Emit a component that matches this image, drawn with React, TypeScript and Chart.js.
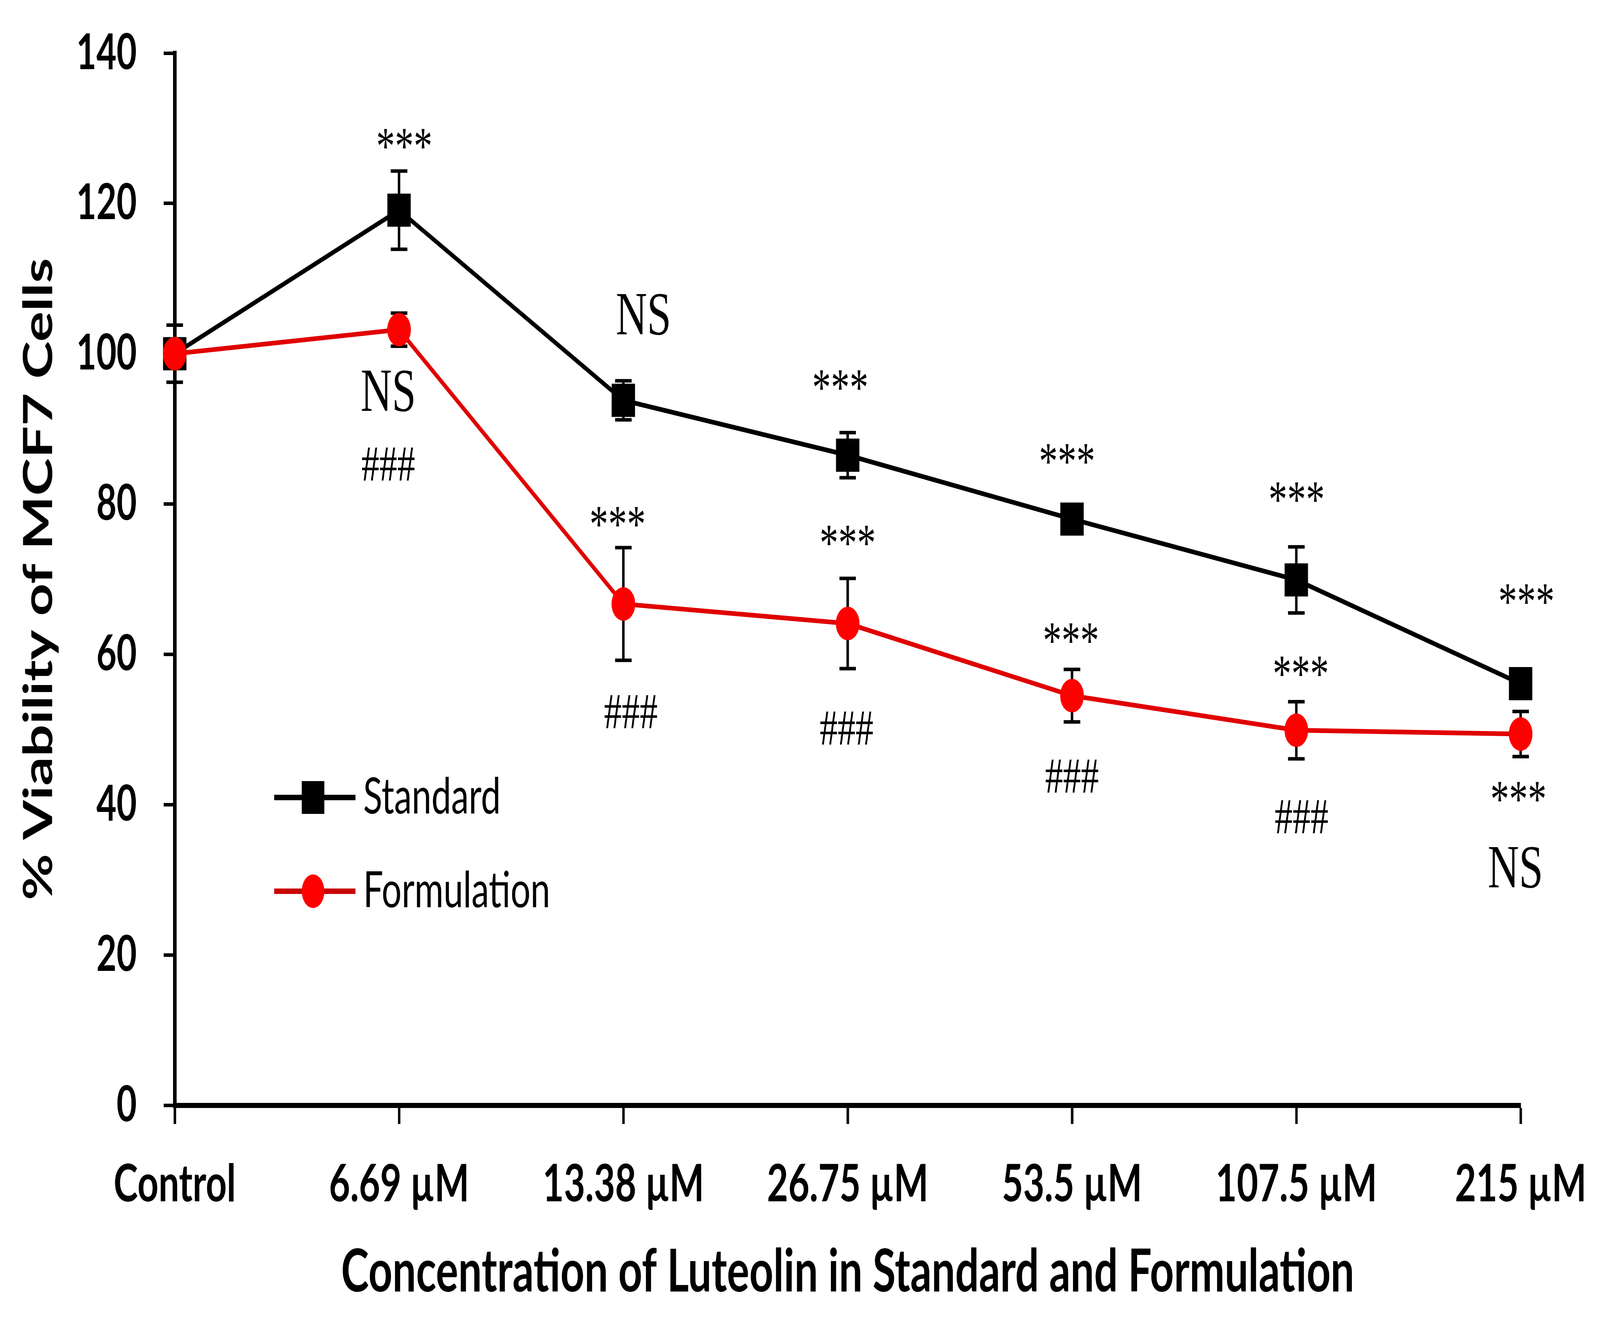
import React, { useEffect, useRef } from 'react';
import { Chart, registerables } from 'chart.js';

Chart.register(...registerables);

const W = 5806;
const H = 3385;

const categories = ['Control', '6.69 µM', '13.38 µM', '26.75 µM', '53.5 µM', '107.5 µM', '215 µM'];
const yTicks = [0, 20, 40, 60, 80, 100, 120, 140];

const standard = [100, 119.1, 93.8, 86.5, 78.0, 69.9, 56.1];
const standardErr = [3.8, 5.2, 2.6, 3.0, 1.5, 4.4, 1.5];
const formulation = [100, 103.2, 66.7, 64.1, 54.5, 49.9, 49.4];
const formulationErr = [1.0, 2.2, 7.5, 6.0, 3.5, 3.8, 3.0];

const seriesNames = ['Standard', 'Formulation'];
const xTitle = 'Concentration of Luteolin in Standard and Formulation';
const yTitle = '% Viability of MCF7 Cells';

// significance labels: category index, label-centre value, horizontal nudge (px)
const sigLabels = [
  { text: '***', cat: 1, y: 128.6, dx: 19 },
  { text: 'NS', cat: 1, y: 95.1, dx: -39 },
  { text: '###', cat: 1, y: 85.3, dx: -39 },
  { text: 'NS', cat: 2, y: 105.3, dx: 73 },
  { text: '***', cat: 2, y: 78.3, dx: -21 },
  { text: '###', cat: 2, y: 52.4, dx: 27 },
  { text: '***', cat: 3, y: 96.5, dx: -27 },
  { text: '***', cat: 3, y: 75.8, dx: 0 },
  { text: '###', cat: 3, y: 50.2, dx: -4 },
  { text: '***', cat: 4, y: 86.7, dx: -18 },
  { text: '***', cat: 4, y: 62.8, dx: -4 },
  { text: '###', cat: 4, y: 43.8, dx: 0 },
  { text: '***', cat: 5, y: 81.6, dx: 1 },
  { text: '***', cat: 5, y: 58.4, dx: 16 },
  { text: '###', cat: 5, y: 38.4, dx: 19 },
  { text: '***', cat: 6, y: 68.0, dx: 21 },
  { text: '***', cat: 6, y: 41.7, dx: -8 },
  { text: 'NS', cat: 6, y: 31.7, dx: -19 },
];

const BLACK = '#000000';
const RED_LINE = '#E00000';
const RED_POINT = '#FF0000';

const errorBarPlugin = {
  id: 'errorBars',
  beforeDatasetsDraw(chart: any) {
    const { ctx } = chart;
    const xs = chart.scales.x;
    const ys = chart.scales.y;
    const sets: [number[], number[]][] = [
      [standard, standardErr],
      [formulation, formulationErr],
    ];
    ctx.save();
    ctx.strokeStyle = BLACK;
    ctx.lineWidth = 9;
    const cap = 30;
    sets.forEach(([vals, errs]) => {
      vals.forEach((v, i) => {
        const px = xs.getPixelForValue(i);
        const top = ys.getPixelForValue(v + errs[i]);
        const bot = ys.getPixelForValue(v - errs[i]);
        ctx.beginPath();
        ctx.moveTo(px, top);
        ctx.lineTo(px, bot);
        ctx.moveTo(px - cap, top);
        ctx.lineTo(px + cap, top);
        ctx.moveTo(px - cap, bot);
        ctx.lineTo(px + cap, bot);
        ctx.stroke();
      });
    });
    ctx.restore();
  },
};

const annotationPlugin = {
  id: 'sigLabels',
  afterDatasetsDraw(chart: any) {
    const { ctx } = chart;
    const xs = chart.scales.x;
    const ys = chart.scales.y;
    ctx.save();
    ctx.fillStyle = BLACK;
    ctx.textAlign = 'center';
    ctx.textBaseline = 'alphabetic';
    sigLabels.forEach((l) => {
      const size = l.text === 'NS' ? 157 : l.text === '***' ? 136 : 130;
      const k = l.text === '***' ? 0.47 : 0.33;
      ctx.font = `${size}px "Liberation Serif", "Times New Roman", serif`;
      const px = xs.getPixelForValue(l.cat) + l.dx;
      const py = ys.getPixelForValue(l.y) + k * size;
      ctx.fillText(l.text, px, py);
    });
    ctx.restore();
  },
};

const legendPlugin = {
  id: 'customLegend',
  afterDraw(chart: any) {
    const { ctx } = chart;
    const x0 = 995;
    const x1 = 1290;
    const xm = 1136;
    const textX = 1318;
    const rows = [
      { name: seriesNames[0], y: 2042, line: BLACK, kind: 'rect' },
      { name: seriesNames[1], y: 2282, line: '#C80000', kind: 'circle' },
    ];
    ctx.save();
    rows.forEach((r) => {
      ctx.strokeStyle = r.line;
      ctx.lineWidth = 14;
      ctx.beginPath();
      ctx.moveTo(x0, r.y);
      ctx.lineTo(x1, r.y);
      ctx.stroke();
      if (r.kind === 'rect') {
        ctx.fillStyle = BLACK;
        ctx.fillRect(xm - 41, r.y - 42, 82, 84);
      } else {
        ctx.fillStyle = RED_POINT;
        ctx.beginPath();
        ctx.ellipse(xm, r.y, 41, 43, 0, 0, Math.PI * 2);
        ctx.fill();
      }
      ctx.fillStyle = BLACK;
      ctx.font = '128px Lato, "Open Sans", sans-serif';
      ctx.textAlign = 'left';
      ctx.textBaseline = 'middle';
      ctx.fillText(r.name, textX, r.y);
    });
    ctx.restore();
  },
};

export default function App() {
  const ref = useRef<HTMLCanvasElement | null>(null);
  const sx = typeof window !== 'undefined' ? window.innerWidth / W : 1;
  const sy = typeof window !== 'undefined' ? window.innerHeight / H : 1;

  useEffect(() => {
    if (!ref.current) return;
    document.documentElement.style.overflow = 'hidden';
    document.body.style.overflow = 'hidden';
    const chart = new Chart(ref.current, {
      type: 'line',
      data: {
        labels: categories,
        datasets: [
          {
            label: seriesNames[0],
            data: standard,
            borderColor: BLACK,
            backgroundColor: BLACK,
            borderWidth: 12,
            pointStyle: 'rect',
            pointRadius: 60,
            pointHoverRadius: 60,
            pointBackgroundColor: BLACK,
            pointBorderColor: BLACK,
            pointBorderWidth: 0,
            tension: 0,
            order: 1,
          },
          {
            label: seriesNames[1],
            data: formulation,
            borderColor: RED_LINE,
            backgroundColor: RED_POINT,
            borderWidth: 12,
            pointStyle: 'circle',
            pointRadius: 43,
            pointHoverRadius: 43,
            pointBackgroundColor: RED_POINT,
            pointBorderColor: RED_POINT,
            pointBorderWidth: 0,
            tension: 0,
            order: 0,
          },
        ],
      },
      options: {
        responsive: false,
        animation: false,
        devicePixelRatio: 1,
        layout: { padding: { top: 136, right: 288, left: 0, bottom: 0 } },
        plugins: {
          legend: { display: false },
          tooltip: { enabled: false },
        },
        scales: {
          x: {
            type: 'category',
            offset: false,
            border: { display: true, color: BLACK, width: 13 },
            grid: {
              display: true,
              drawOnChartArea: false,
              drawTicks: true,
              tickLength: 48,
              tickWidth: 9,
              tickColor: BLACK,
            },
            ticks: {
              color: BLACK,
              padding: 75,
              maxRotation: 0,
              autoSkip: false,
              font: { family: 'Lato', size: 133, weight: 'bold' },
            },
            title: {
              display: true,
              text: xTitle,
              color: BLACK,
              font: { family: 'Lato', size: 152, weight: 'bold' },
              padding: { top: 0, bottom: 36 },
            },
            afterFit(scale: any) {
              scale.height = H - 2830;
              scale.paddingLeft = 0;
              scale.paddingRight = 0;
            },
          },
          y: {
            min: 0,
            max: 140,
            afterBuildTicks(scale: any) {
              scale.ticks = yTicks.map((v) => ({ value: v }));
            },
            border: { display: true, color: BLACK, width: 13 },
            grid: {
              display: true,
              drawOnChartArea: false,
              drawTicks: true,
              tickLength: 40,
              tickWidth: 9,
              tickColor: BLACK,
            },
            ticks: {
              color: BLACK,
              padding: 98,
              font: { family: 'Lato', size: 126, weight: 'bold' },
            },
            title: {
              display: true,
              text: yTitle,
              color: BLACK,
              font: { family: 'Lato', size: 146, weight: 'bold' },
              padding: { top: 54, bottom: 0 },
            },
            afterFit(scale: any) {
              scale.width = 634;
              scale.paddingTop = 0;
              scale.paddingBottom = 0;
            },
          },
        },
      },
      plugins: [errorBarPlugin, annotationPlugin, legendPlugin],
    });
    return () => chart.destroy();
  }, []);

  return (
    <div style={{ position: 'fixed', left: 0, top: 0, width: '100vw', height: '100vh', overflow: 'hidden', background: '#fff' }}>
      <div
        style={{
          position: 'absolute',
          left: 0,
          top: 0,
          width: W,
          height: H,
          transform: `scale(${sx}, ${sy})`,
          transformOrigin: '0 0',
        }}
      >
        <canvas ref={ref} width={W} height={H} style={{ width: W, height: H, display: 'block' }} />
      </div>
    </div>
  );
}
